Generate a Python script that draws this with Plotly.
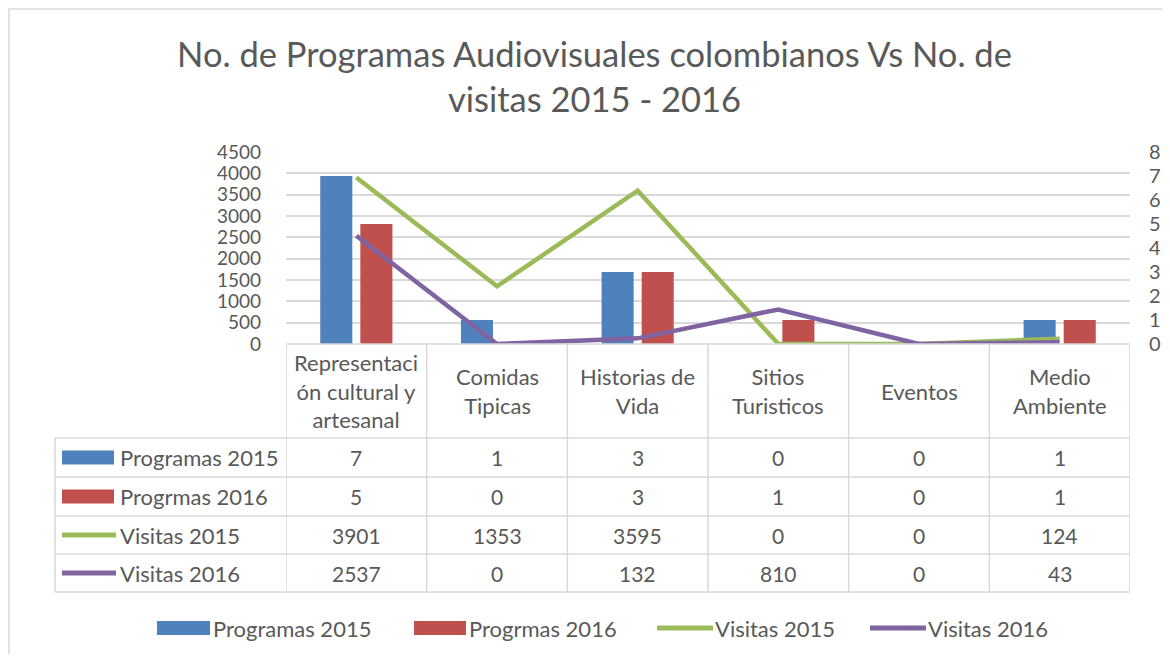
import plotly.graph_objects as go

# ---------------- data ----------------
categories = ["Representación cultural y artesanal", "Comidas Tipicas", "Historias de Vida",
              "Sitios Turisticos", "Eventos", "Medio Ambiente"]
header_labels = ["Representaci<br>ón cultural y<br>artesanal", "Comidas<br>Tipicas",
                 "Historias de<br>Vida", "Sitios<br>Turisticos", "Eventos", "Medio<br>Ambiente"]
programas_2015 = [7, 1, 3, 0, 0, 1]
programas_2016 = [5, 0, 3, 1, 0, 1]
visitas_2015 = [3901, 1353, 3595, 0, 0, 124]
visitas_2016 = [2537, 0, 132, 810, 0, 43]
series_names = ["Programas 2015", "Progrmas 2016", "Visitas 2015", "Visitas 2016"]
left_ticks = list(range(0, 4501, 500))
right_ticks = list(range(0, 9))
title_text = "No. de Programas Audiovisuales colombianos Vs No. de<br>visitas 2015 - 2016"

# ---------------- style ----------------
O = 8  # page body margin offset
W, H = 1170 - 2 * O, 662 - 2 * O
PL, PR, PT, PB = 286 - O, 1130 - O, 152 - O, 344 - O
FONT = "Lato"
TXT = "#595959"
GRID = "#D9D9D9"
BLUE, RED, GREEN, PURPLE = "#4F81BD", "#C0504D", "#9BBB59", "#8064A2"
colors = [BLUE, RED, GREEN, PURPLE]
LBL = 22
NUM = 21
TICK = 19


def px2x(px):  # reference page px -> paper x
    return (px - O - PL) / (PR - PL)


def px2y(py):  # reference page px -> paper y
    return (PB - (py - O)) / (PB - PT)


fig = go.Figure()
fig.add_trace(go.Bar(x=categories, y=programas_2015, name=series_names[0],
                     marker=dict(color=BLUE, line=dict(width=0)), yaxis="y"))
fig.add_trace(go.Bar(x=categories, y=programas_2016, name=series_names[1],
                     marker=dict(color=RED, line=dict(width=0)), yaxis="y"))
fig.add_trace(go.Scatter(x=categories, y=visitas_2015, name=series_names[2], mode="lines",
                         line=dict(color=GREEN, width=4.5), yaxis="y2"))
fig.add_trace(go.Scatter(x=categories, y=visitas_2016, name=series_names[3], mode="lines",
                         line=dict(color=PURPLE, width=4.5), yaxis="y2"))

shapes = []
annotations = []
line_style = dict(color=GRID, width=1.5)
unit = 1 / (PB - PT)

# table horizontal lines
row_bounds = [438, 477, 516, 554, 592]
for yb in row_bounds:
    shapes.append(dict(type="line", xref="paper", yref="paper", x0=px2x(55), x1=1,
                       y0=px2y(yb), y1=px2y(yb), line=line_style))
shapes.append(dict(type="line", xref="paper", yref="paper", x0=0, x1=1,
                   y0=0, y1=0, line=line_style))
# vertical lines at category boundaries
for i in range(len(categories) + 1):
    shapes.append(dict(type="line", xref="x", yref="paper", x0=i - 0.5, x1=i - 0.5,
                       y0=px2y(344), y1=px2y(592), line=line_style))
shapes.append(dict(type="line", xref="paper", yref="paper", x0=px2x(55), x1=px2x(55),
                   y0=px2y(438), y1=px2y(592), line=line_style))
# outer chart border
shapes.append(dict(type="rect", xref="paper", yref="paper", x0=px2x(9), x1=px2x(1185),
                   y0=px2y(9), y1=px2y(680), line=line_style, fillcolor="rgba(0,0,0,0)",
                   layer="below"))

# header labels
for cat, lab in zip(categories, header_labels):
    annotations.append(dict(x=cat, xref="x", y=px2y(391), yref="paper", text=lab,
                            showarrow=False, xanchor="center", yanchor="middle",
                            font=dict(family=FONT, size=LBL, color=TXT)))

# table rows
row_centers = [(row_bounds[k] + row_bounds[k + 1]) / 2 for k in range(4)]
row_values = [programas_2015, programas_2016, visitas_2015, visitas_2016]
for k, (vals, name, col) in enumerate(zip(row_values, series_names, colors)):
    yc = px2y(row_centers[k])
    for cat, v in zip(categories, vals):
        annotations.append(dict(x=cat, xref="x", y=yc, yref="paper", text=str(v),
                                showarrow=False, xanchor="center", yanchor="middle",
                                font=dict(family=FONT, size=NUM, color=TXT)))
    annotations.append(dict(x=px2x(118), xref="paper", y=yc, yref="paper", text=name,
                            showarrow=False, xanchor="left", yanchor="middle",
                            font=dict(family=FONT, size=LBL, color=TXT)))
    if k < 2:
        shapes.append(dict(type="rect", xref="paper", yref="paper", x0=px2x(62), x1=px2x(114),
                           y0=yc - 7 * unit, y1=yc + 7 * unit, fillcolor=col, line=dict(width=0)))
    else:
        shapes.append(dict(type="line", xref="paper", yref="paper", x0=px2x(62), x1=px2x(116),
                           y0=yc, y1=yc, line=dict(color=col, width=5)))

# bottom legend (manual)
leg_y = px2y(628)
leg_items = [(157, 210, 211), (414, 466, 467), (657, 713, 713), (870, 926, 926)]
for (sx0, sx1, tx), name, col, k in zip(leg_items, series_names, colors, range(4)):
    if k < 2:
        shapes.append(dict(type="rect", xref="paper", yref="paper", x0=px2x(sx0), x1=px2x(sx1),
                           y0=leg_y - 7 * unit, y1=leg_y + 7 * unit, fillcolor=col,
                           line=dict(width=0)))
    else:
        shapes.append(dict(type="line", xref="paper", yref="paper", x0=px2x(sx0), x1=px2x(sx1),
                           y0=leg_y, y1=leg_y, line=dict(color=col, width=5)))
    annotations.append(dict(x=px2x(tx), xref="paper", y=leg_y, yref="paper", text=name,
                            showarrow=False, xanchor="left", yanchor="middle",
                            font=dict(family=FONT, size=LBL, color=TXT)))

fig.update_layout(
    width=W, height=H,
    margin=dict(l=PL, r=W - PR, t=PT, b=H - PB, pad=0, autoexpand=False),
    paper_bgcolor="white", plot_bgcolor="white",
    showlegend=False,
    barmode="group", bargap=0.43, bargroupgap=0.2,
    title=dict(text=title_text, x=(594.5 - O) / W, xanchor="center", xref="container",
               y=1 - 59 / H, yanchor="middle", yref="container",
               font=dict(family=FONT, size=34.5, color=TXT), automargin=False),
    font=dict(family=FONT, color=TXT),
    xaxis=dict(type="category", range=[-0.5, len(categories) - 0.5], showticklabels=False,
               showgrid=False, zeroline=False, showline=False, ticks="", automargin=False),
    yaxis=dict(side="right", range=[0, 8], tickvals=right_ticks, showgrid=False,
               zeroline=False, showline=False, ticks="", ticklabelstandoff=18,
               automargin=False,
               tickfont=dict(family=FONT, size=TICK + 1, color=TXT)),
    yaxis2=dict(side="left", overlaying="y", range=[0, 4500], tickvals=left_ticks,
                showgrid=True, gridcolor=GRID, gridwidth=1.5, zeroline=False,
                showline=False, ticks="", ticklabelstandoff=24, automargin=False,
                tickfont=dict(family=FONT, size=TICK, color=TXT)),
    shapes=shapes,
    annotations=annotations,
)

fig.write_html("out.html")
